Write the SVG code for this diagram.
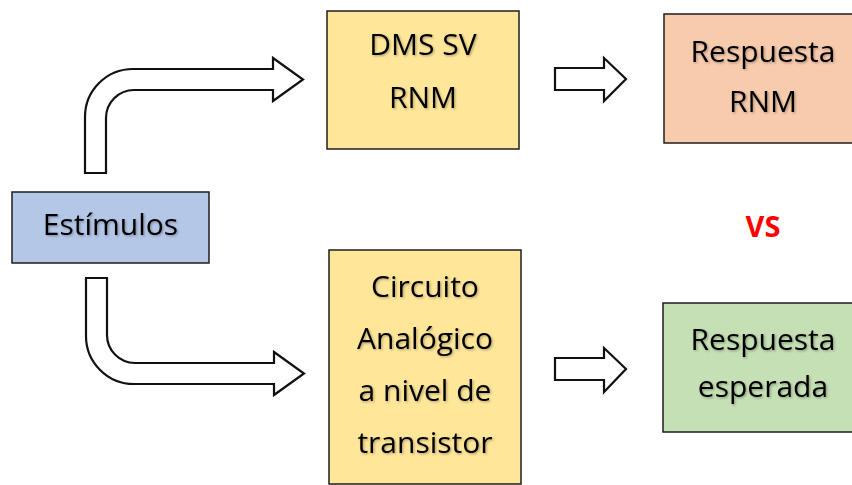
<svg xmlns="http://www.w3.org/2000/svg" width="852" height="485" viewBox="0 0 852 485">
  <defs>
    <filter id="soft" x="-10%" y="-20%" width="130%" height="150%">
      <feDropShadow dx="1.2" dy="1.2" stdDeviation="0.9" flood-color="#000" flood-opacity="0.3"/>
    </filter>
  </defs>
  <style>
    .box { stroke: #1e1e1e; stroke-width: 1.5; }
    .blue { fill: #B4C7E7; }
    .yellow { fill: #FFE699; }
    .peach { fill: #F8CBAD; }
    .green { fill: #C5E0B4; }
    .label { font-family: "Open Sans", "Liberation Sans", sans-serif; font-size: 30px; fill: #000; text-anchor: middle; filter: url(#soft); }
    .vs { font-family: "Open Sans", "Liberation Sans", sans-serif; font-size: 29px; font-weight: bold; fill: #FF0000; text-anchor: middle; }
    .arrow { fill: #fff; stroke: #111; stroke-width: 2.2; stroke-linejoin: miter; }
  </style>

  <rect width="852" height="485" fill="#fff"/>

  <g id="connectors">
    <!-- bent arrow up to the RNM model -->
    <path class="arrow" d="M85,173 L85,117 A48,48 0 0 1 133,69 L273,69 L273,58 L303,79.5 L273,101 L273,90 L134,90 A28,28 0 0 0 106,118 L106,173 Z"/>
    <!-- bent arrow down to the transistor-level circuit -->
    <path class="arrow" d="M86,278 L107,278 L107,335 A28,28 0 0 0 135,363 L274,363 L274,352 L304,373.5 L274,395 L274,384 L134,384 A48,48 0 0 1 86,336 Z"/>
    <!-- straight arrows to the responses -->
    <path class="arrow" d="M555,68 L604,68 L604,58 L626,79 L604,101 L604,90 L555,90 Z"/>
    <path class="arrow" d="M555,358 L604,358 L604,348 L626,369 L604,392 L604,380 L555,380 Z"/>
  </g>

  <g id="estimulos">
    <rect class="box blue" x="12" y="192" width="197" height="71"/>
    <text class="label" x="110.5" y="235">Estímulos</text>
  </g>

  <g id="dms-sv-rnm">
    <rect class="box yellow" x="327" y="11" width="192" height="138"/>
    <text class="label" x="423" y="55">DMS SV</text>
    <text class="label" x="423" y="108">RNM</text>
  </g>

  <g id="circuito-analogico">
    <rect class="box yellow" x="329" y="250" width="192" height="234"/>
    <text class="label" x="425" y="297">Circuito</text>
    <text class="label" x="425" y="349">Analógico</text>
    <text class="label" x="425" y="401">a nivel de</text>
    <text class="label" x="425" y="453">transistor</text>
  </g>

  <g id="respuesta-rnm">
    <rect class="box peach" x="664" y="14" width="200" height="129"/>
    <text class="label" x="763" y="62">Respuesta</text>
    <text class="label" x="763" y="112">RNM</text>
  </g>

  <g id="respuesta-esperada">
    <rect class="box green" x="663" y="303" width="200" height="129"/>
    <text class="label" x="763" y="350">Respuesta</text>
    <text class="label" x="763" y="397">esperada</text>
  </g>

  <g id="vs">
    <text class="vs" x="763" y="237">VS</text>
  </g>
</svg>
